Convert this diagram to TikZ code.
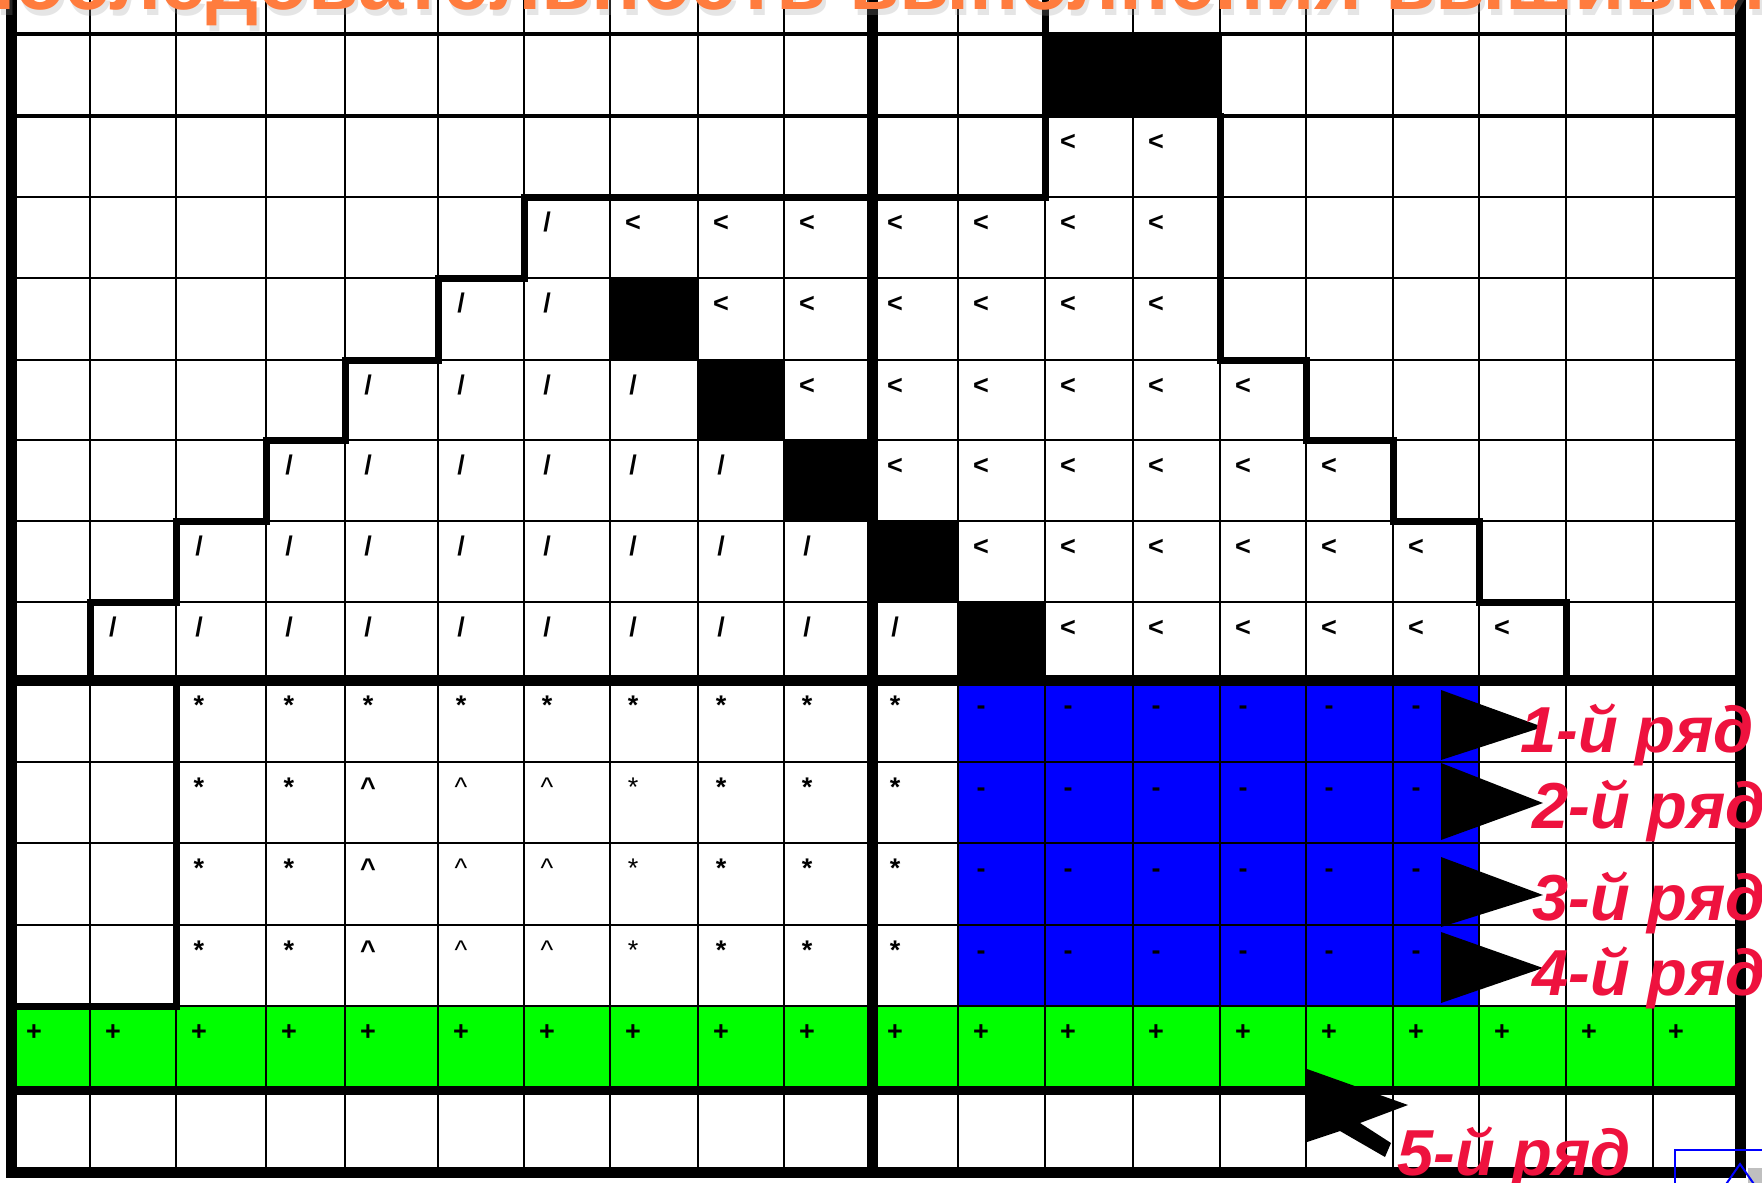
\documentclass[tikz,border=0pt]{standalone}
\usepackage{fontspec}
\setmainfont{Liberation Sans}
\usepackage{tikz}
\usepackage{xcolor}
\usepackage{graphicx}

\definecolor{titleorange}{RGB}{255,124,62}
\definecolor{labelred}{RGB}{238,18,62}

% one stitch symbol per cell: row, columns, symbol
\newcommand{\stitches}[3]{%
  \foreach \c in {#2}
    \path (c\c |- r#1) ++(23,34) node[sym] (s#1-\c) {#3};}

\begin{document}
\begin{tikzpicture}[x=0.5pt, y=-0.5pt,
    sym/.style={anchor=base, inner sep=0pt, font=\fontsize{13.5}{14}\selectfont\bfseries},
    rowlabel/.style={anchor=base west, inner sep=0pt, text=labelred,
        font=\fontsize{32.5}{34}\selectfont\bfseries\itshape},
    gridthin/.style={line width=1.2pt},
    gridthick/.style={line width=5.5pt},
    outline/.style={line width=3.5pt, line cap=rect}]
    % Page
    \useasboundingbox (0,0) rectangle (1762,1183);
    \clip (0,0) rectangle (1762,1183);
    \fill[white] (0,0) rectangle (1762,1183);
    % Grid lines
    \foreach \x [count=\i from 0] in {11,90,176,266,345,438,524,610,698,784,872,958,1045,1133,1220,1306,1393,1479,1566,1653,1740}
        \coordinate (c\i) at (\x,0);
    \foreach \y [count=\j from 0] in {34,116,197,278,360,440,521,602,680,762,843,925,1006,1090,1172}
        \coordinate (r\j) at (0,\y);
    \coordinate (rt) at (0,-20);
    % Coloured rows
    \fill[blue] (c11 |- r8) rectangle (c17 |- r12);
    \fill[green] (c0 |- r12) rectangle (c20 |- r13);
    % Thin grid
    \foreach \i in {0,...,20} \draw[gridthin] (c\i |- rt) -- (c\i |- r14);
    \foreach \j in {0,...,14} \draw[gridthin] (c0 |- r\j) -- (c20 |- r\j);
    \draw[line width=2.2pt] (c0 |- r0) -- (c20 |- r0) (c0 |- r1) -- (c20 |- r1);
    % Black cells
    \filldraw[line width=2pt] (c12 |- r0) rectangle (c14 |- r1);
    \foreach \c/\d/\r/\s in {7/8/3/4, 8/9/4/5, 9/10/5/6, 10/11/6/7, 11/12/7/8}
        \fill (c\c |- r\r) rectangle (c\d |- r\s);
    % Thick lines
    \draw[gridthick] (c0 |- rt) -- (c0 |- r14) -- (c20 |- r14) -- (c20 |- rt);
    \draw[gridthick] (c10 |- rt) -- (c10 |- r14);
    \draw[gridthick] (c0 |- r8) -- (c20 |- r8);
    \draw[line width=4.5pt] (c0 |- r13) -- (c20 |- r13);
    % Motif outline
    \draw[outline] (c1 |- r8) -- (c1 |- r7) -- (c2 |- r7) -- (c2 |- r6) -- (c3 |- r6) -- (c3 |- r5)
        -- (c4 |- r5) -- (c4 |- r4) -- (c5 |- r4) -- (c5 |- r3) -- (c6 |- r3) -- (c6 |- r2)
        -- (c12 |- r2) -- (c12 |- rt);
    \draw[outline] (c14 |- r1) -- (c14 |- r4) -- (c15 |- r4) -- (c15 |- r5) -- (c16 |- r5)
        -- (c16 |- r6) -- (c17 |- r6) -- (c17 |- r7) -- (c18 |- r7) -- (c18 |- r8);
    \draw[outline] (c2 |- r8) -- (c2 |- r12) -- (c0 |- r12);
    % Stitch symbols
    \stitches{1}{12,13}{<}
    \stitches{2}{6}{/}
    \stitches{2}{7,...,13}{<}
    \stitches{3}{5,6}{/}
    \stitches{3}{8,...,13}{<}
    \stitches{4}{4,...,7}{/}
    \stitches{4}{9,...,14}{<}
    \stitches{5}{3,...,8}{/}
    \stitches{5}{10,...,15}{<}
    \stitches{6}{2,...,9}{/}
    \stitches{6}{11,...,16}{<}
    \stitches{7}{1,...,10}{/}
    \stitches{7}{12,...,17}{<}
    \stitches{8}{2,...,10}{*}
    \stitches{8}{11,...,16}{-}
    \foreach \r in {9,10,11} {
        \stitches{\r}{2,3,8,9,10}{*}
        \stitches{\r}{7}{\mdseries *}
        \stitches{\r}{4}{\textasciicircum}
        \stitches{\r}{5,6}{\mdseries\textasciicircum}
        \stitches{\r}{11,...,16}{-}
    }
    \stitches{12}{0,...,19}{+}
    % Row arrows
    \foreach \k/\ya/\yt/\yb in {1/690/727/760, 2/763/803/840, 3/857/895/927, 4/932/968/1003}
        \fill (1441,\ya) -- (1543,\yt) coordinate (t\k) -- (1441,\yb) -- cycle;
    \fill (1307,1069) -- (1408,1105) coordinate (t5) -- (1360,1123) -- (1391,1143) -- (1385,1157)
        -- (1340,1131) -- (1307,1142) -- cycle;
    % Labels
    \node[rowlabel] (lab1) at (1520,752) {1-й ряд};
    \node[rowlabel] (lab2) at (1532,828) {2-й ряд};
    \node[rowlabel] (lab3) at (1532,920) {3-й ряд};
    \node[rowlabel] (lab4) at (1532,995) {4-й ряд};
    \node[rowlabel] (lab5) at (1397,1175) {5-й ряд};
    % Title (cut off by the top edge)
    \node[anchor=base west, inner sep=0pt, text=black!40, opacity=0.25,
        font=\fontsize{41}{44}\selectfont\bfseries] (titleshadow) at (-41,15)
        {Последовательность выполнения вышивки};
    \node[anchor=base west, inner sep=0pt, text=titleorange,
        font=\fontsize{41}{44}\selectfont\bfseries] (title) at (-44,10)
        {Последовательность выполнения вышивки};
    % Slide button
    \draw[blue, line width=1pt] (1675,1150) rectangle (1800,1220);
    \fill[gray!50] (1748,1168) rectangle (1762,1183);
    \draw[blue, line width=1pt] (1722,1190) -- (1740,1164) -- (1758,1190);
\end{tikzpicture}
\end{document}
